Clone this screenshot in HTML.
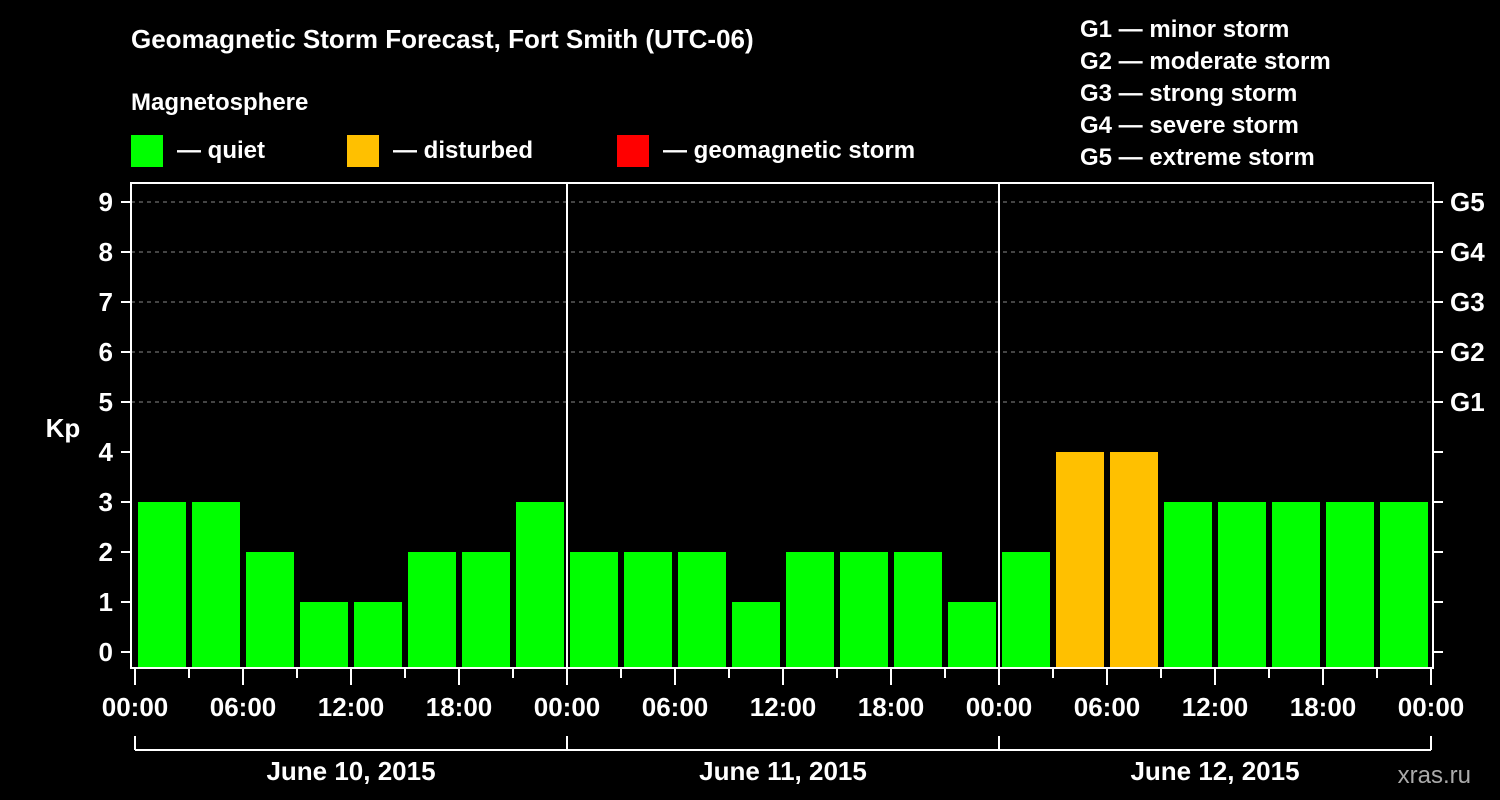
<!DOCTYPE html>
<html><head><meta charset="utf-8"><style>
body{margin:0;background:#000;width:1500px;height:800px;overflow:hidden}
svg{display:block;font-family:"Liberation Sans",sans-serif;font-weight:bold;fill:#fff}
</style></head><body>
<svg id="c" width="1500" height="800">
<text x="131" y="48" font-size="26">Geomagnetic Storm Forecast, Fort Smith (UTC-06)</text>
<text x="131" y="110" font-size="24">Magnetosphere</text>
<g><rect x="131" y="135" width="32" height="32" fill="#00ff00"/><text x="177" y="158" font-size="24">— quiet</text></g>
<g><rect x="347" y="135" width="32" height="32" fill="#ffc000"/><text x="393" y="158" font-size="24">— disturbed</text></g>
<g><rect x="617" y="135" width="32" height="32" fill="#ff0000"/><text x="663" y="158" font-size="24">— geomagnetic storm</text></g>
<g font-size="24">
<text x="1080" y="37">G1 — minor storm</text><text x="1080" y="69">G2 — moderate storm</text><text x="1080" y="101">G3 — strong storm</text><text x="1080" y="133">G4 — severe storm</text><text x="1080" y="165">G5 — extreme storm</text></g>
<text x="63" y="437" font-size="26" text-anchor="middle">Kp</text>
<text x="1471" y="783" font-size="24" text-anchor="end" fill="#aaa" style="fill:#aaa;font-weight:normal">xras.ru</text>
<g id="g"></g>
</svg>
<script>
const days=["June 10, 2015","June 11, 2015","June 12, 2015"];
const kpValues=[3,3,2,1,1,2,2,3, 2,2,2,1,2,2,2,1, 2,4,4,3,3,3,3,3];
const yTicks=[0,1,2,3,4,5,6,7,8,9];
const gLabels=["G1","G2","G3","G4","G5"];
const xTickLabels=["00:00","06:00","12:00","18:00"];
const NS="http://www.w3.org/2000/svg",g=document.getElementById("g");
const x0=135,hw=18,y=k=>652-k*50,xh=h=>x0+h*hw;
function mk(t,a,txt){const e=document.createElementNS(NS,t);for(const k in a)e.setAttribute(k,a[k]);if(txt!=null)e.textContent=txt;g.appendChild(e);return e;}
yTicks.forEach(k=>{
 if(k>=5){const l=mk("line",{x1:131,x2:1433,y1:y(k),y2:y(k),stroke:"#888","stroke-dasharray":"4,4","stroke-width":1});
 
 }
 mk("line",{x1:121,x2:131,y1:y(k),y2:y(k),stroke:"#fff","stroke-width":2});
 mk("line",{x1:1433,x2:1443,y1:y(k),y2:y(k),stroke:"#fff","stroke-width":2});
 const t=mk("text",{x:113,y:y(k)+9,"font-size":26,"text-anchor":"end"},k);
 
 
});
gLabels.forEach((s,i)=>{const t=mk("text",{x:1450,y:y(5+i)+9,"font-size":26},s);
 
 });
kpValues.forEach((v,i)=>{const col=v>=5?"#ff0000":v>=4?"#ffc000":"#00ff00";
 const r=mk("rect",{x:xh(i*3)+3,y:y(v),width:48,height:668-y(v),fill:col});
 
 });
mk("rect",{x:131,y:183,width:1302,height:485,fill:"none",stroke:"#fff","stroke-width":2});
for(let d=1;d<days.length;d++)mk("line",{x1:xh(d*24),x2:xh(d*24),y1:183,y2:668,stroke:"#fff","stroke-width":2});
for(let h=0;h<=days.length*24;h+=3){const maj=h%6==0;
 mk("line",{x1:xh(h),x2:xh(h),y1:668,y2:maj?685:678,stroke:"#fff","stroke-width":2});
 if(maj){const t=mk("text",{x:xh(h),y:716,"font-size":26,"text-anchor":"middle"},xTickLabels[(h%24)/6]);
 
 }}
mk("line",{x1:xh(0),x2:xh(days.length*24),y1:750,y2:750,stroke:"#fff","stroke-width":2});
days.forEach((d,i)=>{
 mk("line",{x1:xh(i*24),x2:xh(i*24),y1:736,y2:750,stroke:"#fff","stroke-width":2});
 const t=mk("text",{x:xh(i*24+12),y:780,"font-size":26,"text-anchor":"middle"},d);
 
 });
mk("line",{x1:xh(days.length*24),x2:xh(days.length*24),y1:736,y2:750,stroke:"#fff","stroke-width":2});
</script>
</body></html>
